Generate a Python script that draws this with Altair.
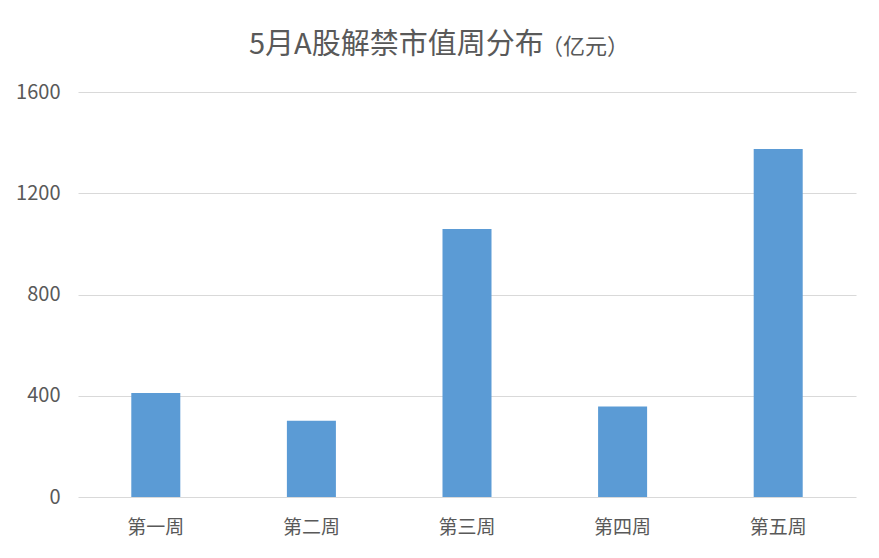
import altair as alt
import pandas as pd

weeks = ["第一周", "第二周", "第三周", "第四周", "第五周"]
values = [411, 301, 1059, 358, 1375]
y_ticks = [0, 400, 800, 1200, 1600]
title_main = "5月A股解禁市值周分布"
title_unit = "（亿元）"

df = pd.DataFrame({"week": weeks, "value": values})

FONT = "Noto Sans CJK SC"
GREY = "#595959"

bars = alt.Chart(df).mark_bar(color="#5b9bd5").encode(
    x=alt.X("week:N", sort=weeks, title=None,
            scale=alt.Scale(paddingInner=0.685, paddingOuter=0.3425),
            axis=alt.Axis(labelAngle=0, domain=False, ticks=False,
                          labelFontSize=19, labelColor=GREY, labelFont=FONT,
                          labelPadding=21)),
    y=alt.Y("value:Q", title=None,
            scale=alt.Scale(domain=[0, 1600]),
            axis=alt.Axis(values=y_ticks, format="d", domain=False, ticks=False,
                          labelFontSize=20, labelColor=GREY, labelFont=FONT,
                          labelPadding=18, gridColor="#d9d9d9", gridWidth=1)),
)

main = alt.Chart(pd.DataFrame({"t": [title_main]})).mark_text(
    align="left", baseline="middle", fontSize=29, color=GREY, font=FONT
).encode(x=alt.value(171), y=alt.value(-47), text="t:N")

unit = alt.Chart(pd.DataFrame({"t": [title_unit]})).mark_text(
    align="left", baseline="middle", fontSize=22, color=GREY, font=FONT
).encode(x=alt.value(463), y=alt.value(-45), text="t:N")

chart = alt.layer(bars, main, unit).properties(
    width=778,
    height=405,
    background="white",
    padding={"left": 7, "top": 23, "right": 10, "bottom": 10},
).configure_view(stroke=None)

chart.save("out.html", embed_options={"renderer": "svg", "actions": False})
